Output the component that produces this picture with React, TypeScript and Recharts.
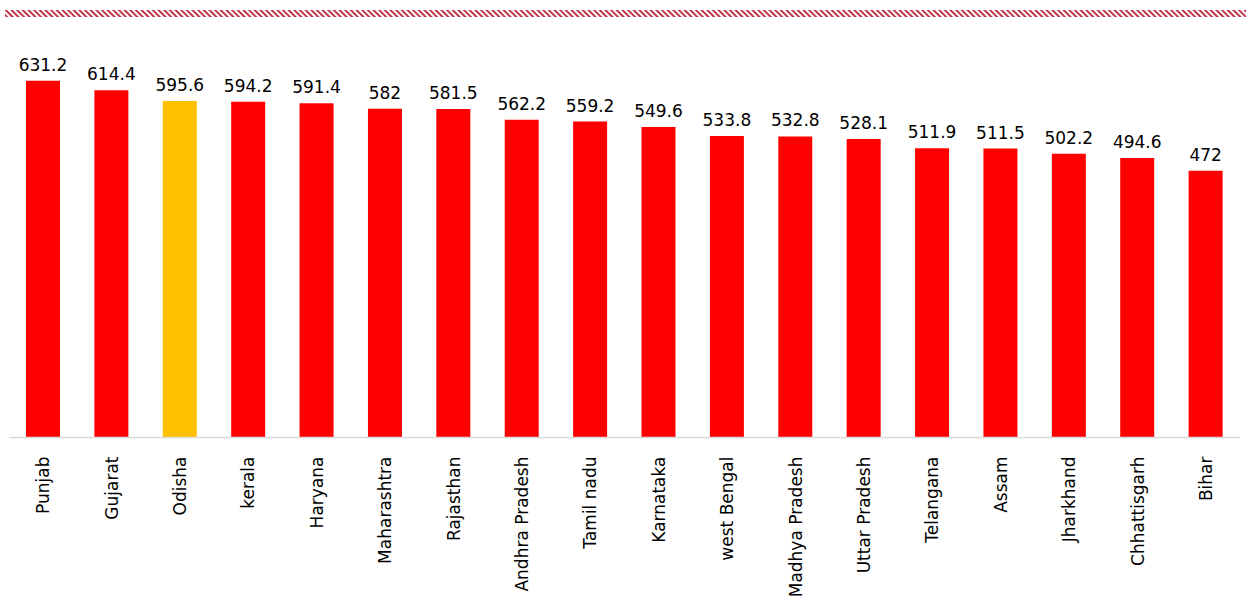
import React from "react";
import { BarChart, Bar, XAxis, YAxis, Cell, LabelList } from "recharts";

const categories = [
  "Punjab", "Gujarat", "Odisha", "kerala", "Haryana", "Maharashtra", "Rajasthan",
  "Andhra Pradesh", "Tamil nadu", "Karnataka", "west Bengal", "Madhya Pradesh",
  "Uttar Pradesh", "Telangana", "Assam", "Jharkhand", "Chhattisgarh", "Bihar",
];
const values = [
  631.2, 614.4, 595.6, 594.2, 591.4, 582, 581.5, 562.2, 559.2, 549.6, 533.8, 532.8,
  528.1, 511.9, 511.5, 502.2, 494.6, 472,
];
const highlight = "Odisha";

const data = categories.map((name, i) => ({ name, value: values[i] }));

const FONT = "'DejaVu Sans', sans-serif";

const Tick = (props: any) => {
  const { x, y, payload } = props;
  return (
    <text
      x={0}
      y={0}
      transform={`translate(${x},${y + 11}) rotate(-90)`}
      textAnchor="end"
      dy="0.36em"
      fontSize={17}
      fontFamily={FONT}
      fill="#000"
    >
      {payload.value}
    </text>
  );
};

export default function App() {
  return (
    <div style={{ position: "absolute", left: 0, top: 0, width: 1246, height: 607, background: "#fff" }}>
      <svg width={1246} height={20} style={{ position: "absolute", left: 0, top: 0 }}>
        <defs>
          <pattern id="hatch" width="4" height="4" patternUnits="userSpaceOnUse" patternTransform="rotate(-45)">
            <rect width="2" height="4" fill="#C0364A" />
          </pattern>
        </defs>
        <rect x={5} y={10} width={1241} height={7} fill="url(#hatch)" />
      </svg>
      <div style={{ position: "absolute", left: 0, top: 0 }}>
        <BarChart
          width={1246}
          height={607}
          data={data}
          margin={{ top: 42, right: 6, left: 9, bottom: 0 }}
          barSize={34}
        >
          <YAxis hide domain={[0, 700]} />
          <XAxis
            dataKey="name"
            interval={0}
            height={169.5}
            tickLine={false}
            axisLine={{ stroke: "#D9D9D9", strokeWidth: 1.5 }}
            tick={<Tick />}
          />
          <Bar dataKey="value" isAnimationActive={false}>
            {data.map((d) => (
              <Cell key={d.name} fill={d.name === highlight ? "#FFC000" : "#FF0000"} />
            ))}
            <LabelList
              dataKey="value"
              position="top"
              offset={10}
              fill="#000"
              fontSize={17}
              fontFamily={FONT}
            />
          </Bar>
        </BarChart>
      </div>
    </div>
  );
}
